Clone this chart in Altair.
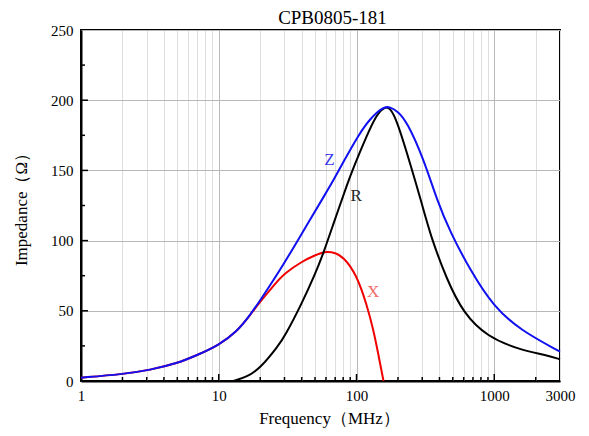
import altair as alt
import pandas as pd

# ---- data ----
z_freq = [1, 2, 3.17, 5, 7, 10, 13.5, 16.9, 20, 27.9, 38.9, 60.9, 68, 80.3, 103, 125.6, 157, 175, 200, 232, 306, 383, 479, 668, 986, 1542, 3000]
z_vals = [2.4, 4.8, 7.8, 12.6, 18.5, 25.6, 35, 47, 57.5, 79, 102.8, 135, 143, 156, 175, 187, 195.5, 195.2, 192, 184.7, 158.6, 129, 106, 79, 53, 36.3, 20.9]

r_freq = [12.8, 16, 20, 27, 30, 40, 50, 57.5, 68, 87.6, 95, 119, 140, 161, 175, 196, 245, 295, 343, 453, 598, 884, 1542, 2410, 3000]
r_vals = [0, 3, 9, 25, 31.5, 55, 76, 91, 112, 143, 152, 175, 190, 195.5, 194.5, 186, 155, 128, 104, 72, 48.2, 31.6, 22.1, 18.5, 15.4]

x_freq = [1, 2, 3.17, 5, 7, 10, 13.5, 16.9, 20, 26, 30, 40, 50, 60.9, 70, 80, 100, 119, 133, 144, 157]
x_vals = [2.4, 4.8, 7.8, 12.6, 18.5, 25.6, 35, 47, 56.5, 70, 76.7, 85, 89.7, 92.5, 91.2, 88.6, 76, 54, 36, 19, 0]

label_text = ["Z", "R", "X"]
label_freq = [63.5, 99.5, 132]
label_vals = [157.5, 131.5, 63.5]

x_tick_values = [1, 2, 3, 4, 5, 6, 7, 8, 9,
                 10, 20, 30, 40, 50, 60, 70, 80, 90,
                 100, 200, 300, 400, 500, 600, 700, 800, 900,
                 1000, 2000, 3000]
x_major = [10, 100, 1000]
x_minor = [v for v in x_tick_values if v not in x_major and v not in (1, 3000)]
y_tick_values = [0, 25, 50, 75, 100, 125, 150, 175, 200, 225, 250]
y_major = [50, 100, 150, 200]
y_minor = [25, 75, 125, 175, 225]

FONT = "Liberation Serif"

xscale = alt.Scale(type="log", domain=[1, 3000], nice=False)
yscale = alt.Scale(domain=[0, 250], nice=False)

df_z = pd.DataFrame({"f": z_freq, "v": z_vals})
df_r = pd.DataFrame({"f": r_freq, "v": r_vals})
df_x = pd.DataFrame({"f": x_freq, "v": x_vals})

x_axis = alt.Axis(
    values=x_tick_values,
    format="d",
    labelExpr="indexof([1,10,100,1000,3000], datum.value) >= 0 ? datum.label : ''",
    labelFlush=False,
    labelOverlap=False,
    ticks=False,
    labelPadding=7,
    labelFont=FONT, labelFontSize=15, labelColor="black",
    title="Frequency（MHz）",
    titleFont=FONT, titleFontSize=17, titleFontWeight="normal", titleColor="black",
    titleX=248, titleY=37, titleBaseline="middle", titleAlign="center",
    grid=True,
    gridColor={"condition": {"test": "indexof([10,100,1000], datum.value) >= 0", "value": "#b8b8b8"}, "value": "#dedede"},
    gridWidth=1,
    domainColor="black", domainWidth=2,
)
y_axis = alt.Axis(
    values=y_tick_values,
    labelExpr="datum.value % 50 == 0 ? datum.label : ''",
    ticks=False,
    labelPadding=8,
    labelFont=FONT, labelFontSize=15, labelColor="black",
    title="Impedance（Ω）",
    titleFont=FONT, titleFontSize=17, titleFontWeight="normal", titleColor="black",
    titleX=-60, titleY=175, titleAngle=270, titleBaseline="middle", titleAlign="center",
    grid=True,
    gridColor={"condition": {"test": "datum.value % 50 == 0", "value": "#b8b8b8"}, "value": "#dedede"},
    gridWidth=1,
    domainColor="black", domainWidth=2,
)

X = lambda: alt.X("f:Q", scale=xscale)
Y = lambda: alt.Y("v:Q", scale=yscale)

line_x = alt.Chart(df_x).mark_line(color="#f00000", strokeWidth=2, interpolate="basis").encode(
    x=alt.X("f:Q", scale=xscale, axis=x_axis),
    y=alt.Y("v:Q", scale=yscale, axis=y_axis),
)
line_r = alt.Chart(df_r).mark_line(color="black", strokeWidth=2, interpolate="basis").encode(x=X(), y=Y())
line_z = alt.Chart(df_z).mark_line(color="#1010f0", strokeWidth=2, interpolate="basis").encode(x=X(), y=Y())

label_colors = ["#3a3ae8", "#222222", "#f06a6a"]
labels = []
for t, f, v, c in zip(label_text, label_freq, label_vals, label_colors):
    labels.append(
        alt.Chart(pd.DataFrame({"f": [f], "v": [v], "t": [t]})).mark_text(
            font=FONT, fontSize=17, color=c, align="center", baseline="middle"
        ).encode(x=X(), y=Y(), text="t:N")
    )

def xticks(vals, length):
    return alt.Chart(pd.DataFrame({"f": vals})).mark_rule(color="black", strokeWidth=1.5).encode(
        x=X(), y=alt.value(351), y2=alt.value(351 - length),
    )

def yticks(vals, length):
    return alt.Chart(pd.DataFrame({"v": vals})).mark_rule(color="black", strokeWidth=1.5).encode(
        y=Y(), x=alt.value(0), x2=alt.value(length),
    )

chart = alt.layer(
    line_x, xticks(x_major, 7), xticks(x_minor, 4), yticks(y_major, 7), yticks(y_minor, 4),
    line_r, line_z, *labels,
).properties(
    width=479, height=351,
    title=alt.TitleParams("CPB0805-181", font=FONT, fontSize=19, fontWeight="normal",
                          color="black", dx=12, dy=9, offset=4, frame="group"),
    autosize=alt.AutoSizeParams(type="none"),
    padding={"left": 73, "top": 22, "right": 20, "bottom": 47},
).configure_view(stroke="black", strokeWidth=2)

chart.save("out.html", embed_options={"renderer": "svg", "actions": False})
